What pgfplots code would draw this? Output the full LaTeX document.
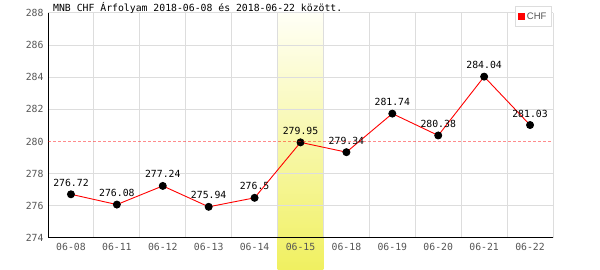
\documentclass[border=0pt]{standalone}
\usepackage{pgfplots}
\pgfplotsset{compat=1.18}
\usepackage{fontspec}
\setmainfont{DejaVu Sans Mono}
\newfontfamily\legfont{Liberation Sans}
\definecolor{gridgray}{RGB}{221,221,221}
\definecolor{ticktext}{RGB}{85,85,85}
\pgfplotsset{
  layers/mylayers/.define layer set={axis background,axis grid,band,axis ticks,axis lines,axis tick labels,main,axis descriptions,axis foreground}{},
}
\begin{document}
\begin{tikzpicture}
\begin{axis}[
  set layers=mylayers,
  at={(0pt,0pt)}, anchor=south west,
  scale only axis, width=505pt, height=225pt,
  xmin=-0.5, xmax=10.5, ymin=274, ymax=288,
  clip=false,
  axis lines=left,
  axis line style={-, black, line width=1pt},
  xtick={0,...,10},
  xticklabels={06-08,06-11,06-12,06-13,06-14,06-15,06-18,06-19,06-20,06-21,06-22},
  minor xtick={-0.5,0.5,...,10.5},
  xminorgrids,
  ytick={274,276,278,282,284,286,288},
  extra y ticks={280},
  extra y tick style={grid=none},
  ymajorgrids,
  major tick length=0pt, minor tick length=0pt,
  grid style={gridgray, line width=1pt},
  minor grid style={gridgray, line width=1pt},
  tick label style={font=\fontsize{9.8}{11}\selectfont, text=ticktext},
  /pgf/number format/assume math mode=true,
  xticklabel style={anchor=north, yshift=-2pt},
  yticklabel style={anchor=east, xshift=-1pt},
  legend style={at={(0.998,1.031)}, anchor=north east, draw=gridgray, line width=1pt, fill=white,
    font=\legfont\fontsize{9.5}{10}\selectfont, text=ticktext, inner xsep=3pt, inner ysep=4pt},
  legend cell align=left,
]
\addplot[draw=none, on layer=band, forget plot,
  top color={rgb,255:red,255;green,255;blue,246}, bottom color={rgb,255:red,240;green,240;blue,96}]
  coordinates {(4.5,272.0) (5.5,272.0) (5.5,288) (4.5,288)};
\addplot[draw=red, draw opacity=0.45, line width=1.2pt, dash pattern=on 3pt off 2pt, mark=none, forget plot, on layer=axis foreground]
  coordinates {(-0.5,280) (10.5,280)};
\addplot[draw=red, line width=0.9pt, mark=*, mark size=3.5pt, mark options={draw=black, fill=black},
  nodes near coords, point meta=explicit symbolic,
  every node near coord/.append style={anchor=base, inner sep=0pt, yshift=8pt, font=\fontsize{9.8}{11}\selectfont, text=black},
  legend image code/.code={\fill[red] (0pt,-3pt) rectangle (6pt,3pt);}]
  table[meta=lab] {
x y lab
0 276.72 276.72
1 276.08 276.08
2 277.24 277.24
3 275.94 275.94
4 276.5 276.5
5 279.95 279.95
6 279.34 279.34
7 281.74 281.74
8 280.38 280.38
9 284.04 284.04
10 281.03 281.03
};
\addlegendentry{CHF}
\node[anchor=base west, inner sep=0pt, font=\fontsize{9.8}{11}\selectfont, xshift=5pt, yshift=1pt] at (rel axis cs:0,1) {MNB CHF Árfolyam 2018-06-08 és 2018-06-22 között.};
\end{axis}
\pgfresetboundingbox
\path[use as bounding box] (-48pt,-32pt) rectangle (552pt,238pt);
\end{tikzpicture}
\end{document}
